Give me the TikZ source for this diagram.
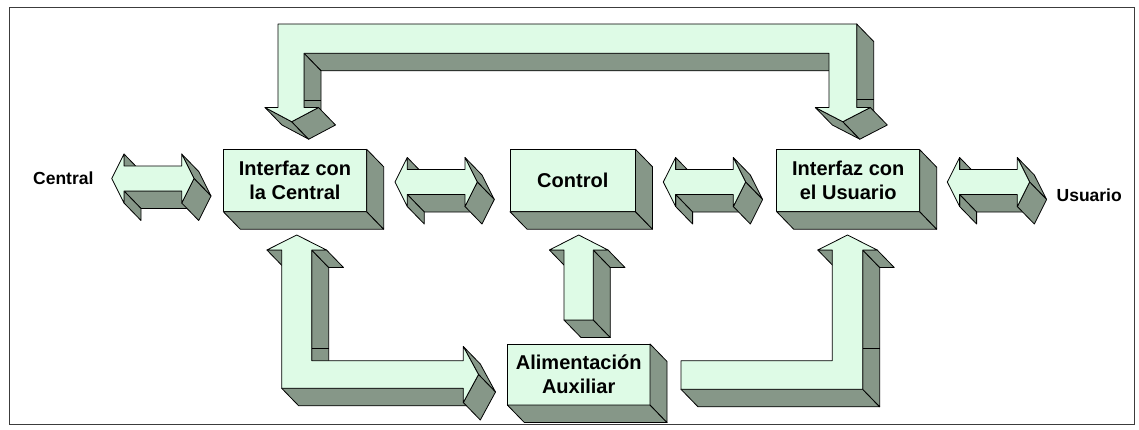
\documentclass[tikz,border=0pt]{standalone}
\usepackage{fontspec}
\setmainfont{Liberation Sans}
\usetikzlibrary{calc}

\definecolor{facelight}{RGB}{222,251,230}
\definecolor{faceshade}{RGB}{134,151,136}
\definecolor{framegray}{RGB}{60,60,60}

% extrusion vector of the 3-D blocks
\def\ddx{17}
\def\ddy{17.5}

% one extruded side face along the front edge #1 -- #2
\newcommand{\sideface}[2]{%
  \draw[side] (#1) -- (#2) -- ($(#2)+(\ddx,\ddy)$) -- ($(#1)+(\ddx,\ddy)$) -- cycle;}

% bottom and right faces of a block node
\newcommand{\blockdepth}[1]{%
  \draw[side] (#1.south west) -- (#1.south east)
     -- ([shift={(\ddx,\ddy)}]#1.south east) -- ([shift={(\ddx,\ddy)}]#1.south west) -- cycle;
  \draw[side] (#1.north east) -- ([shift={(\ddx,\ddy)}]#1.north east)
     -- ([shift={(\ddx,\ddy)}]#1.south east) -- (#1.south east) -- cycle;}

% horizontal two-way block arrow, left tip at (#1,#2)
\newcommand{\twowayarrow}[2]{%
  \begin{scope}[shift={(#1,#2)}]
    \sideface{70,12.5}{12.3,12.5}
    \sideface{12.3,12.5}{12.3,24.5}
    \sideface{12.3,-24.5}{12.3,-12.5}
    \sideface{70,-24.5}{82.3,0}
    \sideface{82.3,0}{70,24.5}
    \draw[front] (0,0) -- (12.3,-24.5) -- (12.3,-12.5) -- (70,-12.5) -- (70,-24.5)
      -- (82.3,0) -- (70,24.5) -- (70,12.5) -- (12.3,12.5) -- (12.3,24.5) -- cycle;
  \end{scope}}

\newcommand{\boxfont}{\fontsize{20}{24}\selectfont\bfseries}
\newcommand{\labelfont}{\fontsize{17.5}{21}\selectfont\bfseries}

\tikzset{
  side/.style={fill=faceshade, draw=black, line width=0.8pt, line join=round},
  front/.style={fill=facelight, draw=black, line width=0.8pt, line join=round},
  block/.style={front, rectangle, inner sep=0pt, outer sep=0pt, align=center, font=\boxfont},
  seam/.style={draw=black, line width=0.8pt},
  endlabel/.style={inner sep=0pt, anchor=base, font=\labelfont}
}

\begin{document}
\begin{tikzpicture}[x=1pt, y=-1pt]
  \useasboundingbox (0,0) rectangle (1139,429);
  \draw[framegray, line width=0.9pt] (9,7) rectangle (1134,424);

  % ---- blocks ----
  \node[block, minimum width=143.4pt, minimum height=62.4pt] (ic) at (295,180.5) {Interfaz con\\la Central};
  \blockdepth{ic}
  \node[block, minimum width=125.5pt, minimum height=62.4pt] (ctl) at (572.75,180.5) {Control};
  \blockdepth{ctl}
  \node[block, minimum width=143pt, minimum height=62pt] (iu) at (848.2,180.7) {Interfaz con\\el Usuario};
  \blockdepth{iu}
  \node[block, minimum width=142.7pt, minimum height=61pt] (alim) at (578.7,374.5) {Alimentación\\Auxiliar};
  \blockdepth{alim}

  % ---- end labels ----
  \node[endlabel] (central) at (63.3,184) {Central};
  \node[endlabel] (usuario) at (1089.2,201.7) {Usuario};

  % ---- two-way arrows along the row ----
  \twowayarrow{111.7}{178.5}
  \twowayarrow{395}{182}
  \twowayarrow{663.3}{182}
  \twowayarrow{947.3}{182}

  % ---- top bridge arrow between the two interfaces ----
  \sideface{829,53.3}{304,53.3}
  \sideface{304,53.3}{304,107.5}
  \sideface{856.7,24}{856.7,107.5}
  \sideface{265,107.5}{291.7,121.7}
  \sideface{291.7,121.7}{318.5,107.5}
  \sideface{815.3,107.5}{842.8,121.7}
  \sideface{842.8,121.7}{870.3,107.5}
  \draw[seam] (304,100.3) -- (321,100.3);
  \draw[seam] (856.7,99.3) -- (873.7,99.3);
  \draw[front] (291.7,121.7) -- (265,107.5) -- (278,107.5) -- (278,24) -- (856.7,24)
    -- (856.7,107.5) -- (870.3,107.5) -- (842.8,121.7) -- (815.3,107.5) -- (829,107.5)
    -- (829,53.3) -- (304,53.3) -- (304,107.5) -- (318.5,107.5) -- cycle;

  % ---- lower left arrow: Interfaz con la Central <-> Alimentacion ----
  \sideface{311.7,250}{311.7,360.7}
  \sideface{281.7,388.3}{463.3,388.3}
  \sideface{266.9,250}{281.7,250}
  \sideface{311.7,250}{326.5,250}
  \sideface{463.3,346.5}{478.5,374.5}
  \sideface{478.5,374.5}{463.3,402.5}
  \draw[seam] (311.7,348.3) -- (328.7,348.3);
  \draw[front] (296.7,235) -- (266.9,250) -- (281.7,250) -- (281.7,388.3) -- (463.3,388.3)
    -- (463.3,402.5) -- (478.5,374.5) -- (463.3,346.5) -- (463.3,360.7) -- (311.7,360.7)
    -- (311.7,250) -- (326.5,250) -- cycle;

  % ---- Alimentacion -> Control ----
  \sideface{564,320}{593.3,320}
  \sideface{593.3,320}{593.3,250}
  \sideface{549.4,250}{564,250}
  \sideface{593.3,250}{608,250}
  \draw[front] (578.7,235) -- (549.4,250) -- (564,250) -- (564,320) -- (593.3,320)
    -- (593.3,250) -- (608,250) -- cycle;

  % ---- Alimentacion -> Interfaz con el Usuario ----
  \sideface{681,389.3}{862.7,389.3}
  \sideface{862.7,389.3}{862.7,250}
  \sideface{817.8,250}{832.3,250}
  \sideface{862.7,250}{877.2,250}
  \draw[seam] (862.7,348.3) -- (879.7,348.3);
  \draw[front] (847.5,235) -- (817.8,250) -- (832.3,250) -- (832.3,360.7) -- (681,360.7)
    -- (681,389.3) -- (862.7,389.3) -- (862.7,250) -- (877.2,250) -- cycle;
\end{tikzpicture}
\end{document}
